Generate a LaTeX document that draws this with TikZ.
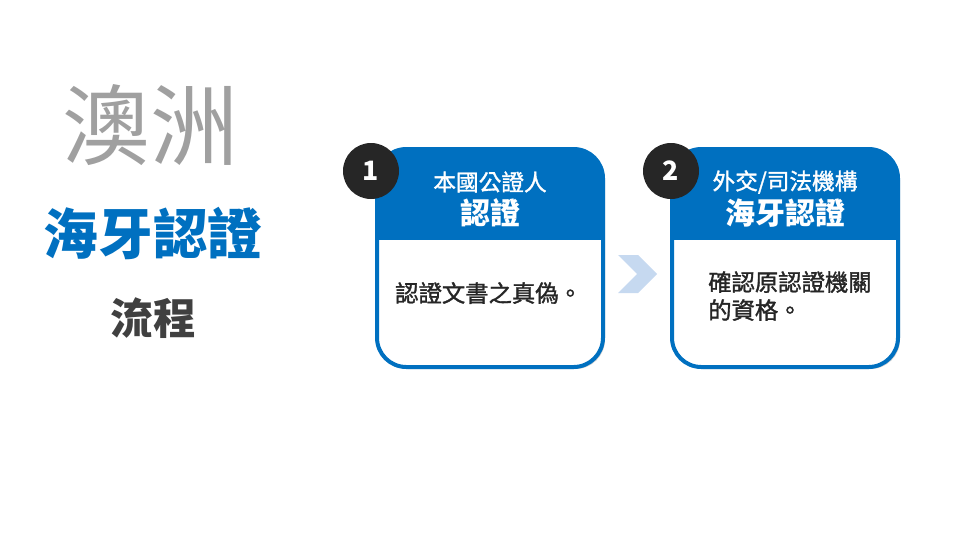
\documentclass[tikz,border=0pt]{standalone}
\usepackage{fontspec}
\newfontfamily\cjk{Noto Sans CJK TC}
\newfontfamily\cjkmed{Noto Sans CJK TC}[FakeBold=1.4]
\usetikzlibrary{shadows}
\definecolor{cardblue}{HTML}{0070C0}
\definecolor{titlegray}{HTML}{A0A0A0}
\definecolor{darktxt}{HTML}{404040}
\definecolor{chevblue}{HTML}{C6D9F0}
\definecolor{badge}{HTML}{262626}
\tikzset{
    card/.style={draw=cardblue, line width=3pt, fill=white, rounded corners=22pt,
        minimum width=169.5pt, minimum height=163.5pt,
        drop shadow={opacity=0.35, shadow xshift=1.5pt, shadow yshift=-1.5pt},
        path picture={\fill[cardblue, sharp corners] (path picture bounding box.north west)
            rectangle ([yshift=-68.25pt]path picture bounding box.north east);}},
    badgenode/.style={circle, fill=badge, minimum size=42pt, inner sep=0pt,
        text=white, font=\cjk\bfseries\fontsize{20pt}{20pt}\selectfont},
    headsmall/.style={text=white, font=\cjkmed\fontsize{17pt}{18pt}\selectfont},
    headbig/.style={text=white, font=\cjk\bfseries\fontsize{22.5pt}{24pt}\selectfont},
    bodytxt/.style={text=badge, anchor=west, inner sep=0pt, align=left,
        font=\cjkmed\fontsize{17.5pt}{21pt}\selectfont}
}
\begin{document}
\begin{tikzpicture}[x=0.75pt, y=-0.75pt]
    \useasboundingbox (0, 0) rectangle (960, 540);
    % title
    \node [text=titlegray, font=\cjk\fontsize{66pt}{66pt}\selectfont] (tAu) at (150, 125) {澳洲};
    \node [text=cardblue, font=\cjk\bfseries\fontsize{41pt}{41pt}\selectfont] (tHague) at (153, 233) {海牙認證};
    \node [text=darktxt, font=\cjk\bfseries\fontsize{32pt}{32pt}\selectfont] (tFlow) at (153, 318) {流程};
    % step cards
    \node [card] (card1) at (490, 258) {};
    \node [card] (card2) at (785, 258) {};
    \node [badgenode] (b1) at (371, 171) {1};
    \node [badgenode] (b2) at (671, 171) {2};
    \node [headsmall] (h1a) at (490, 182) {本國公證人};
    \node [headbig] (h1b) at (490, 213) {認證};
    \node [headsmall] (h2a) at (785, 182) {外交/司法機構};
    \node [headbig] (h2b) at (785, 213) {海牙認證};
    \node [bodytxt] (body1) at (395, 293) {認證文書之真偽。};
    \node [bodytxt] (body2) at (708, 296) {確認原認證機關\\的資格。};
    % chevron between cards
    \fill [chevblue] (618, 255) -- (638, 255) -- (657, 274) -- (638, 293) -- (618, 293) -- (637, 274) -- cycle;
\end{tikzpicture}
\end{document}
